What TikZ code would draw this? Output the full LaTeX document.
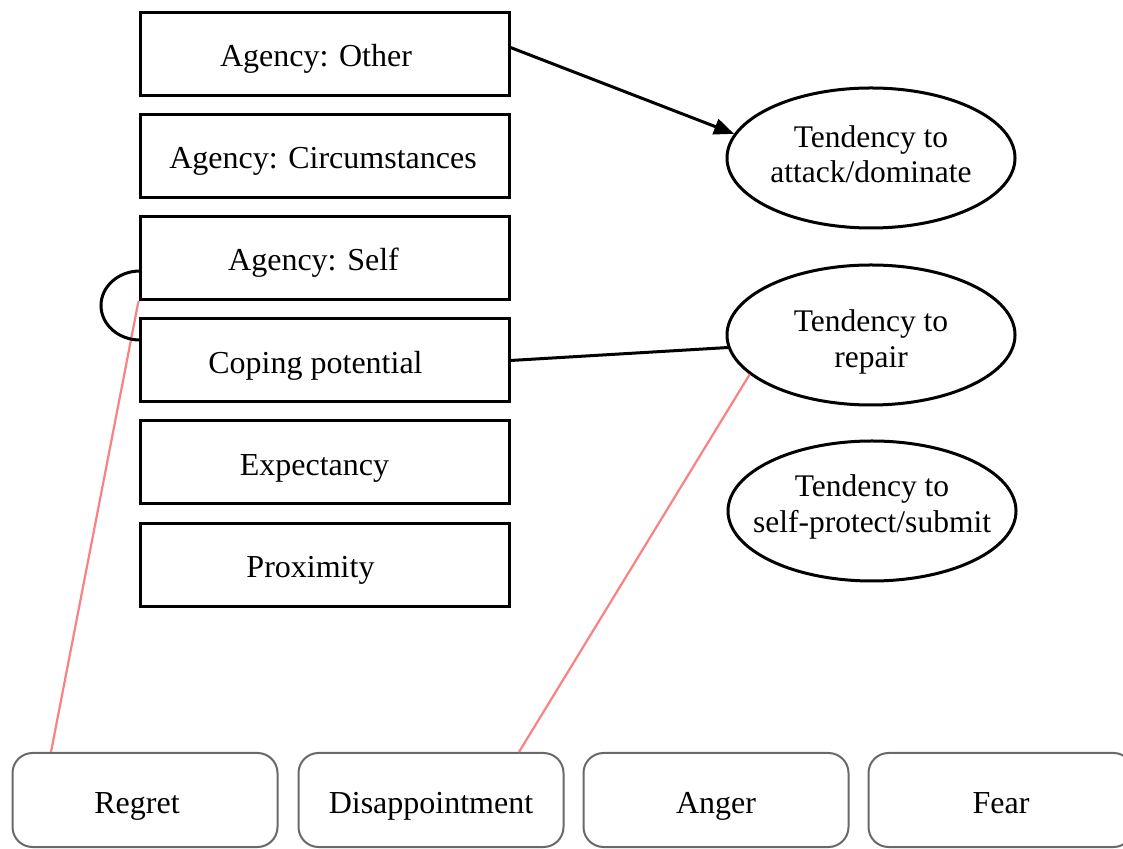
\documentclass[tikz,border=0pt]{standalone}
\usepackage{fontspec}
\setmainfont{Liberation Serif}
\usetikzlibrary{shapes.geometric,arrows.meta,calc}
\definecolor{pinkline}{RGB}{250,130,130}
\definecolor{grayline}{RGB}{105,105,105}
\begin{document}
\begin{tikzpicture}[x=1pt,y=1pt,
  factor/.style={draw=black,line width=3pt,minimum width=369pt,minimum height=83pt,inner sep=0pt,text height=26pt,text depth=0pt,font=\fontsize{32}{36}\selectfont},
  tend/.style={ellipse,draw=black,line width=3pt,minimum width=288pt,minimum height=140pt,inner sep=0pt},
  tendtext/.style={align=center,inner sep=0pt,font=\fontsize{31.5}{35.5}\selectfont},
  emo/.style={draw=grayline,line width=2pt,rounded corners=20pt,minimum width=265pt,minimum height=94pt,inner sep=0pt,text height=26pt,text depth=0pt,font=\fontsize{32}{36}\selectfont},
  link/.style={line width=3pt,draw=black},
  pinklink/.style={line width=2.2pt,draw=pinkline}]
\clip (0,0) rectangle (1123,848);
\useasboundingbox (0,0) rectangle (1123,848);
\fill[white] (0,0) rectangle (1123,848);
% factor boxes
\node[factor] (b1) at (324.5,794) {Agency: Other\kern17pt};
\node[factor] (b2) at (324.5,692) {Agency: Circumstances\kern3pt};
\node[factor] (b3) at (324.5,590) {Agency: Self\kern22pt};
\node[factor] (b4) at (324.5,487.5) {Coping potential\kern18pt};
\node[factor] (b5) at (324.5,385.5) {Expectancy\kern20pt};
\node[factor] (b6) at (324.5,283) {Proximity\kern28pt};
% tendencies
\node[tend] (e1) at (871,690) {};
\node[tendtext] (e1t) at ($(e1)+(0,4)$) {Tendency to\\attack/dominate};
\node[tend] (e2) at (871,513) {};
\node[tendtext] (e2t) at ($(e2)+(0,-7)$) {Tendency to\\repair};
\node[tend] (e3) at (872,337) {};
\node[tendtext] (e3t) at ($(e3)+(0,4)$) {Tendency to\\self-protect/submit};
% emotions
\node[emo] (r) at (145,48) {Regret\kern16pt};
\node[emo] (d) at (431,48) {Disappointment};
\node[emo] (a) at (716,48) {Anger};
\node[emo] (f) at (1001,48) {Fear};
% connectors
\draw[link,-{Triangle[length=20pt,width=16pt]}] (b1.2) -- (e1.170);
\draw[link] (b4.east) -- (e2.185);
\coordinate (rtop) at ($(r.north)+(-94,0)$);
\coordinate (dtop) at ($(d.north)+(88,0)$);
\draw[pinklink] (rtop) -- (b3.south west);
\draw[pinklink] (dtop) -- (e2.198);
% arc
\coordinate (arcstart) at (140,577);
\draw[link] (arcstart) arc[start angle=90,end angle=270,x radius=39,y radius=34.5];
\end{tikzpicture}
\end{document}
